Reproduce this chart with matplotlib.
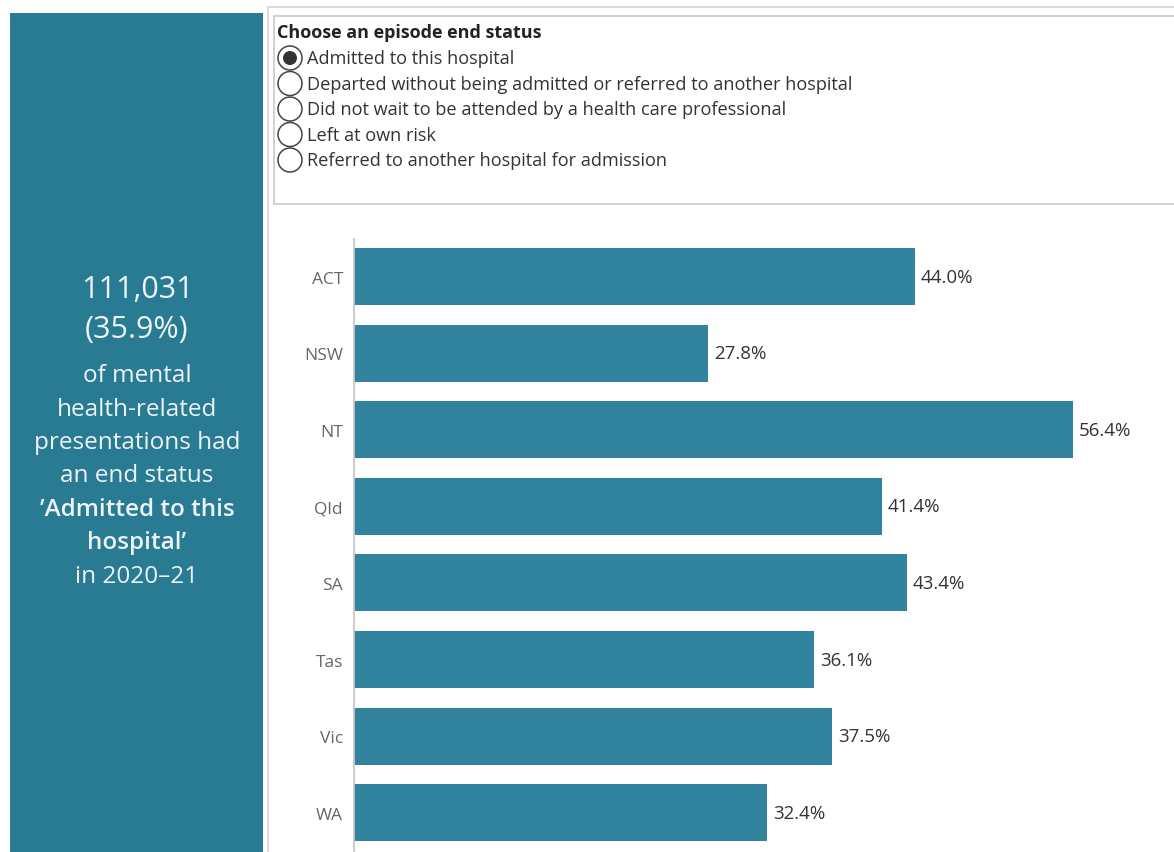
import matplotlib
matplotlib.use("Agg")
import matplotlib.pyplot as plt
from matplotlib.patches import Rectangle, Circle

plt.rcParams['font.family'] = ['Open Sans', 'DejaVu Sans']

# Share of mental health-related presentations by end status, per state
states = ['ACT', 'NSW', 'NT', 'Qld', 'SA', 'Tas', 'Vic', 'WA']
admitted_pct = [44.0, 27.8, 56.4, 41.4, 43.4, 36.1, 37.5, 32.4]

status_options = [
    'Admitted to this hospital',
    'Departed without being admitted or referred to another hospital',
    'Did not wait to be attended by a health care professional',
    'Left at own risk',
    'Referred to another hospital for admission',
]
selected_status = 0

summary_lines = ['111,031', '(35.9%)', 'of mental', 'health-related',
                 'presentations had', 'an end status',
                 '\u2019Admitted to this', 'hospital\u2019', 'in 2020\u201321']

W, H = 1174, 853
panel_color = '#287B93'
bar_color = '#32849E'

fig = plt.figure(figsize=(W / 100, H / 100), dpi=100)

# pixel-space layer for the panel, the filter box and the radio buttons
bg = fig.add_axes([0, 0, 1, 1])
bg.set_xlim(0, W)
bg.set_ylim(H, 0)
bg.axis('off')

bg.add_patch(Rectangle((10, 14), 253, H, facecolor=panel_color, edgecolor='none'))
bg.add_patch(Rectangle((268, 8), W, H, facecolor='white', edgecolor='#d4d4d4', lw=1.2))
bg.add_patch(Rectangle((274, 17), W, 188, facecolor='white', edgecolor='#c8c8c8', lw=1.2))

bg.text(277, 33, 'Choose an episode end status', fontsize=13, fontweight='bold',
        color='#222222', va='center', ha='left')
for i, opt in enumerate(status_options):
    y = 59 + i * 25.5
    bg.add_patch(Circle((290, y), 12, facecolor='white', edgecolor='#444444', lw=1.1))
    if i == selected_status:
        bg.add_patch(Circle((290, y), 7, facecolor='#333333', edgecolor='none'))
    bg.text(307, y, opt, fontsize=13.1, color='#333333', va='center', ha='left')

# summary text in the left panel
line_y = [290, 330, 376, 410, 443, 476, 510, 543, 577]
for j, (txt, y) in enumerate(zip(summary_lines, line_y)):
    size = 22 if j < 2 else 17.5
    weight = 'semibold' if j in (6, 7) else 'normal'
    bg.text(137, y, txt, fontsize=size, fontweight=weight, color='#eef3f5',
            ha='center', va='center')

# horizontal bar chart
ax = fig.add_axes([354 / W, 0, (W - 354) / W, (H - 240) / H])
ypos = list(range(len(states)))
ax.barh(ypos, admitted_pct, height=0.745, color=bar_color, edgecolor='none')
ax.set_xlim(0, (W - 354) / 12.75)
ax.set_ylim(7.513, -0.49)
ax.set_yticks(ypos)
ax.set_yticklabels(states, fontsize=12.5, color='#666666')
ax.tick_params(axis='y', length=0, pad=8)
ax.set_xticks([])
for side in ('top', 'right', 'bottom'):
    ax.spines[side].set_visible(False)
ax.spines['left'].set_color('#c8c8c8')
ax.spines['left'].set_linewidth(1.3)

for y, v in zip(ypos, admitted_pct):
    ax.text(v + 0.45, y, f'{v:.1f}%', fontsize=13.5, color='#333333',
            va='center', ha='left')

fig.savefig('out.png', dpi=100)
